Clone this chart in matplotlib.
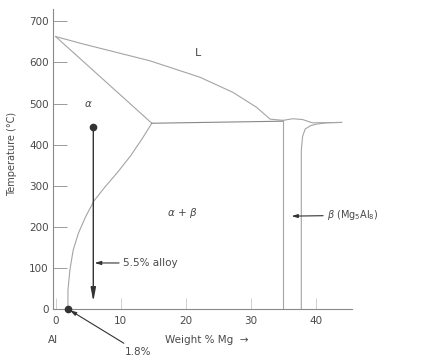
import matplotlib
matplotlib.use("Agg")
import matplotlib.pyplot as plt

# ---- data (wt % Mg, temperature °C) ----
liquidus_wt = [0, 4.2, 14.5, 22.2, 27.3, 30.9, 33.0, 35.0]
liquidus_T = [663, 645, 604, 564, 527, 491, 462, 459]

solidus_wt = [0, 14.8]
solidus_T = [663, 452]

solvus_wt = [14.8, 13.3, 11.5, 9.5, 7.6, 5.9, 4.6, 3.5, 2.7, 2.2, 1.9, 1.9]
solvus_T = [452, 414, 372, 332, 297, 263, 224, 184, 143, 95, 46, 0]

eutectic_wt = [14.8, 35.0]
eutectic_T = [452, 457]

beta_left_wt = [35.0, 35.0]
beta_left_T = [0, 459]

beta_top_wt = [35.0, 36.5, 38.0, 39.5, 44.0]
beta_top_T = [459, 463, 461, 453, 454]

beta_right_wt = [37.8, 37.8, 38.0, 38.4, 39.2, 40.2, 41.7, 44.0]
beta_right_T = [0, 386, 420, 438, 446, 450, 453, 454]

alloy_wt = 5.8
alloy_T_start = 444
alloy_T_end = 18
solubility_wt = 1.9

xticks = [0, 10, 20, 30, 40]
yticks = [0, 100, 200, 300, 400, 500, 600, 700]

line_c = "#a4a4a4"
dark = "#333333"
txt = "#4a4a4a"

fig = plt.figure(figsize=(4.28, 3.57), dpi=100)
ax = fig.add_axes([53 / 428, 1 - 309 / 357, 299 / 428, 300 / 357])
ax.set_xlim(-0.4, 45.6)
ax.set_ylim(0, 730)

for s in ["top", "right"]:
    ax.spines[s].set_visible(False)
for s in ["left", "bottom"]:
    ax.spines[s].set_color("#8a8a8a")
    ax.spines[s].set_linewidth(0.8)

ax.set_xticks(xticks)
ax.set_yticks(yticks)
ax.set_xticklabels([str(v) for v in xticks])
ax.set_yticklabels([str(v) for v in yticks])
ax.tick_params(axis="y", direction="in", length=10, width=0.7, color="#9a9a9a",
               labelsize=7.5, labelcolor=txt, pad=3)
ax.tick_params(axis="x", direction="in", length=8, width=0.7, color="#cfcfcf",
               labelsize=7.5, labelcolor=txt, pad=5)

lw = 0.8
ax.plot(liquidus_wt, liquidus_T, color=line_c, lw=lw)
ax.plot(solidus_wt, solidus_T, color=line_c, lw=lw)
ax.plot(solvus_wt, solvus_T, color=line_c, lw=lw)
ax.plot(eutectic_wt, eutectic_T, color="#888888", lw=lw)
ax.plot(beta_left_wt, beta_left_T, color=line_c, lw=lw)
ax.plot(beta_top_wt, beta_top_T, color=line_c, lw=lw)
ax.plot(beta_right_wt, beta_right_T, color=line_c, lw=lw)

# alloy path
ax.plot([alloy_wt], [alloy_T_start], "o", color=dark, ms=4.5)
ax.annotate("", xy=(alloy_wt, alloy_T_end), xytext=(alloy_wt, alloy_T_start),
            arrowprops=dict(arrowstyle="-|>,head_length=0.8,head_width=0.15",
                            color=dark, lw=1.0, shrinkA=0, shrinkB=0))
ax.plot([solubility_wt], [0], "o", color=dark, ms=4.5, clip_on=False, zorder=5)

# labels
ax.text(5.0, 499, r"$\alpha$", color=txt, fontsize=7.5, ha="center", va="center")
ax.text(21.9, 624, "L", color=txt, fontsize=8, ha="center", va="center")
ax.text(19.5, 233, r"$\alpha\,+\,\beta$", color=txt, fontsize=7.5, ha="center", va="center")

ax.annotate("5.5% alloy", xy=(alloy_wt + 0.2, 112), xytext=(10.4, 112),
            color=txt, fontsize=7.5, ha="left", va="center",
            arrowprops=dict(arrowstyle="-|>,head_length=0.5,head_width=0.15",
                            color=dark, lw=0.8, shrinkA=1, shrinkB=0))
ax.annotate(r"$\beta$ (Mg$_5$Al$_8$)", xy=(36.3, 226), xytext=(41.8, 228),
            color=txt, fontsize=7, ha="left", va="center",
            arrowprops=dict(arrowstyle="-|>,head_length=0.5,head_width=0.15",
                            color=dark, lw=0.8, shrinkA=1, shrinkB=0))
ax.annotate("1.8%", xy=(solubility_wt + 0.3, -3), xytext=(10.6, -104),
            color=txt, fontsize=7.5, ha="left", va="center", annotation_clip=False,
            arrowprops=dict(arrowstyle="-|>,head_length=0.5,head_width=0.15",
                            color=dark, lw=0.8, shrinkA=1, shrinkB=0))

ax.text(-0.4, -75, "Al", color=txt, fontsize=7.5, ha="center", va="center", clip_on=False)
ax.text(16.8, -75, "Weight % Mg  \u2192", color=txt, fontsize=7.5, ha="left",
        va="center", clip_on=False)

fig.text(12 / 428, 1 - 154 / 357, "Temperature (\u00b0C)", rotation=90, color=txt,
         fontsize=7, ha="center", va="center")

fig.savefig("out.png", dpi=100)
